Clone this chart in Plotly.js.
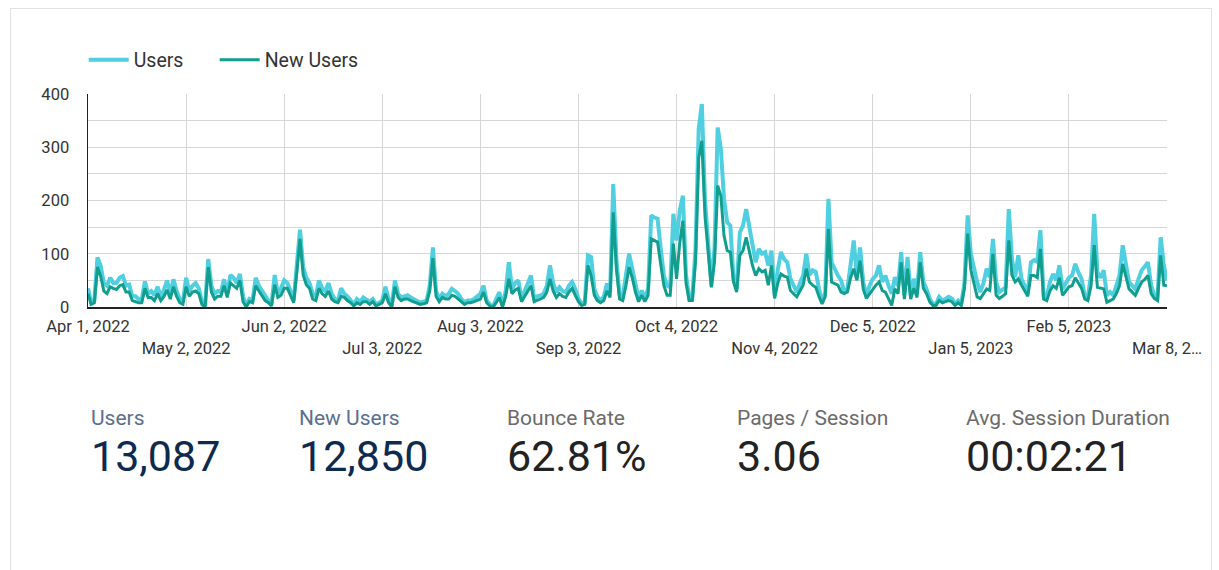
<!DOCTYPE html>
<html>
<head>
<meta charset="utf-8">
<script src="https://cdn.plot.ly/plotly-3.0.1.min.js"></script>
<style>
  html, body { margin: 0; padding: 0; background: #fff; overflow: hidden; }
  #frame { position: absolute; left: 10px; top: 8px; width: 1202px; height: 640px;
           border: 1px solid #e2e2e2; box-sizing: border-box; }
  #chart { position: absolute; left: 0; top: 0; width: 1219px; height: 570px; }
</style>
</head>
<body>
<div id="frame"></div>
<div id="chart"></div>
<script>
// Daily traffic, Apr 1 2022 .. Mar 8 2023
const startDate = '2022-04-01';

const users = [
  35, 8, 12, 93, 78, 45, 40, 55, 45, 45,
  55, 58, 40, 42, 20, 20, 15, 15, 48, 25,
  30, 22, 38, 20, 32, 50, 25, 52, 30, 15,
  10, 55, 30, 40, 45, 35, 10, 2, 90, 40,
  25, 30, 28, 52, 25, 60, 55, 45, 62, 20,
  3, 15, 12, 55, 40, 30, 20, 12, 5, 60,
  25, 35, 50, 45, 30, 12, 80, 145, 75, 55,
  45, 25, 20, 50, 35, 30, 45, 25, 15, 12,
  35, 25, 20, 12, 5, 15, 10, 18, 15, 10,
  15, 5, 8, 12, 38, 15, 3, 50, 25, 18,
  20, 22, 18, 15, 12, 8, 10, 12, 40, 112,
  30, 15, 25, 20, 25, 34, 30, 25, 15, 9,
  12, 12, 15, 19, 25, 40, 12, 5, 0, 15,
  28, 3, 30, 84, 34, 45, 50, 15, 30, 45,
  59, 15, 20, 22, 25, 40, 78, 45, 28, 37,
  30, 28, 40, 47, 34, 16, 6, 9, 97, 94,
  34, 19, 12, 19, 44, 28, 231, 90, 22, 19,
  60, 100, 72, 40, 16, 31, 16, 34, 172, 168,
  166, 110, 59, 40, 37, 175, 125, 180, 209, 60,
  16, 20, 109, 335, 381, 200, 128, 40, 110, 337,
  297, 203, 159, 153, 53, 34, 140, 153, 184, 147,
  116, 84, 109, 100, 103, 78, 106, 22, 70, 103,
  90, 84, 53, 40, 28, 45, 59, 100, 60, 69,
  66, 35, 9, 28, 203, 84, 69, 59, 50, 28,
  34, 80, 125, 59, 112, 47, 22, 40, 53, 59,
  78, 47, 59, 40, 25, 56, 40, 103, 22, 94,
  22, 53, 28, 103, 47, 34, 16, 6, 6, 19,
  12, 15, 19, 16, 6, 12, 6, 47, 172, 100,
  72, 47, 28, 45, 72, 56, 128, 47, 28, 33,
  37, 184, 90, 56, 97, 53, 40, 28, 84, 88,
  85, 144, 22, 19, 47, 62, 50, 78, 34, 44,
  55, 59, 81, 65, 53, 22, 19, 60, 175, 66,
  55, 69, 22, 28, 22, 40, 60, 116, 84, 47,
  40, 34, 53, 69, 76, 84, 40, 22, 19, 131,
  78, 50
];

const newUsers = [
  25, 5, 8, 75, 58, 30, 25, 38, 35, 33,
  40, 42, 28, 28, 12, 10, 8, 8, 35, 18,
  18, 12, 25, 12, 20, 32, 15, 38, 20, 8,
  5, 38, 20, 28, 30, 25, 5, 0, 75, 28,
  15, 20, 20, 40, 18, 45, 40, 35, 50, 10,
  0, 10, 8, 40, 30, 20, 12, 8, 2, 42,
  18, 22, 35, 35, 20, 8, 65, 128, 60, 42,
  35, 15, 12, 35, 25, 20, 30, 15, 10, 8,
  20, 18, 12, 8, 2, 8, 5, 10, 10, 5,
  10, 2, 5, 8, 25, 8, 0, 38, 18, 12,
  15, 15, 12, 10, 8, 5, 6, 8, 30, 92,
  20, 10, 18, 15, 15, 22, 20, 15, 10, 5,
  8, 8, 10, 12, 15, 28, 8, 2, 0, 8,
  18, 0, 20, 53, 25, 32, 35, 10, 20, 30,
  40, 10, 12, 15, 18, 28, 53, 30, 18, 25,
  20, 18, 28, 35, 22, 10, 3, 5, 78, 59,
  22, 12, 8, 12, 30, 18, 178, 70, 15, 12,
  40, 75, 55, 28, 10, 22, 10, 22, 128, 125,
  122, 80, 40, 22, 22, 119, 53, 120, 162, 45,
  12, 12, 85, 280, 312, 170, 100, 37, 85, 228,
  209, 134, 106, 103, 47, 28, 97, 106, 131, 103,
  78, 59, 72, 66, 69, 41, 78, 16, 45, 62,
  58, 56, 31, 25, 19, 30, 41, 72, 47, 41,
  37, 20, 6, 20, 147, 47, 44, 41, 28, 25,
  28, 55, 72, 50, 87, 34, 16, 25, 34, 41,
  47, 31, 28, 15, 3, 34, 25, 84, 15, 72,
  15, 35, 18, 84, 35, 25, 10, 3, 3, 12,
  8, 10, 12, 10, 3, 8, 3, 35, 138, 70,
  47, 19, 16, 25, 34, 31, 100, 22, 16, 20,
  25, 125, 60, 47, 53, 41, 30, 20, 59, 59,
  55, 109, 15, 12, 30, 40, 35, 55, 22, 30,
  38, 40, 55, 45, 35, 15, 12, 40, 116, 37,
  35, 34, 9, 12, 15, 25, 40, 81, 59, 34,
  28, 22, 35, 47, 52, 59, 25, 16, 12, 97,
  41, 40
];

// x-axis ticks every 31 days; labels alternate between two rows
const tickDates = ['2022-04-01', '2022-05-02', '2022-06-02', '2022-07-03', '2022-08-03', '2022-09-03',
                   '2022-10-04', '2022-11-04', '2022-12-05', '2023-01-05', '2023-02-05', '2023-03-08'];
const tickLabels = ['Apr 1, 2022', 'May 2, 2022', 'Jun 2, 2022', 'Jul 3, 2022', 'Aug 3, 2022', 'Sep 3, 2022',
                    'Oct 4, 2022', 'Nov 4, 2022', 'Dec 5, 2022', 'Jan 5, 2023', 'Feb 5, 2023', 'Mar 8, 2\u2026'];

const yTickVals = [0, 50, 100, 150, 200, 250, 300, 350, 400];
const yTickLabels = ['0', '', '100', '', '200', '', '300', '', '400'];

// Scorecards under the chart
const cardLabels = ['Users', 'New Users', 'Bounce Rate', 'Pages / Session', 'Avg. Session Duration'];
const cardValues = ['13,087', '12,850', '62.81%', '3.06', '00:02:21'];
const cardLeft = [92, 300, 508, 738, 967];

function dayList(start, n) {
  const out = [];
  const t0 = Date.parse(start + 'T00:00:00Z');
  for (let i = 0; i < n; i++) {
    out.push(new Date(t0 + i * 86400000).toISOString().slice(0, 10));
  }
  return out;
}
const dates = dayList(startDate, users.length);

// plot box in page pixels
const W = 1219, H = 570;
const L = 88, R = 1167, T = 94, B = 307;
const px = x => (x - L) / (R - L);
const py = y => (B - y) / (B - T);

const annotations = [];
cardLabels.forEach((lab, i) => {
  const accent = i < 2;
  annotations.push({
    xref: 'paper', yref: 'paper', x: px(cardLeft[i] - 3), y: py(418),
    xanchor: 'left', yanchor: 'middle', showarrow: false, text: lab,
    font: { family: 'Roboto, sans-serif', size: 21, color: accent ? '#5a6f8e' : '#6b6b6b' }
  });
  annotations.push({
    xref: 'paper', yref: 'paper', x: px(cardLeft[i] - 3), y: py(456),
    xanchor: 'left', yanchor: 'middle', showarrow: false, text: cardValues[i],
    font: { family: 'Roboto, sans-serif', size: 43, color: accent ? '#0d2a50' : '#222222' }
  });
});

const traces = [
  {
    x: dates, y: users, name: 'Users', type: 'scatter', mode: 'lines',
    line: { color: '#4fcfe0', width: 4 },
    legendwidth: 76
  },
  {
    x: dates, y: newUsers, name: 'New Users', type: 'scatter', mode: 'lines',
    line: { color: '#129e8f', width: 3 }
  }
];

const layout = {
  width: W, height: H,
  margin: { l: L, r: W - R, t: T, b: H - B, pad: 0 },
  paper_bgcolor: 'rgba(0,0,0,0)',
  plot_bgcolor: '#ffffff',
  font: { family: 'Roboto, sans-serif', color: '#333333', size: 16 },
  showlegend: true,
  legend: {
    orientation: 'h', x: -0.004, xanchor: 'left', y: py(60), yanchor: 'middle',
    font: { family: 'Roboto, sans-serif', size: 19.5, color: '#333333' },
    itemwidth: 40,
    traceorder: 'normal', bgcolor: 'rgba(0,0,0,0)'
  },
  xaxis: {
    type: 'date',
    range: [tickDates[0], tickDates[tickDates.length - 1]],
    tickmode: 'array', tickvals: tickDates,
    ticktext: tickLabels.map((t, i) => (i % 2 ? '<br>' + t : t)),
    tickangle: 0,
    showgrid: true, gridcolor: '#d6d6d6', gridwidth: 1,
    showline: true, linecolor: '#222222', linewidth: 1.5,
    ticks: '', ticklabelstandoff: 4,
    zeroline: false, fixedrange: true,
    tickfont: { size: 16.5, color: '#333333' }
  },
  yaxis: {
    range: [0, 400],
    tickmode: 'array', tickvals: yTickVals, ticktext: yTickLabels,
    showgrid: true, gridcolor: '#d6d6d6', gridwidth: 1,
    showline: true, linecolor: '#222222', linewidth: 1.5,
    ticks: '', ticklabelstandoff: 14,
    zeroline: false, fixedrange: true,
    tickfont: { size: 16.5, color: '#333333' }
  },
  annotations: annotations
};

Plotly.newPlot('chart', traces, layout, { displayModeBar: false, staticPlot: true });
</script>
</body>
</html>
